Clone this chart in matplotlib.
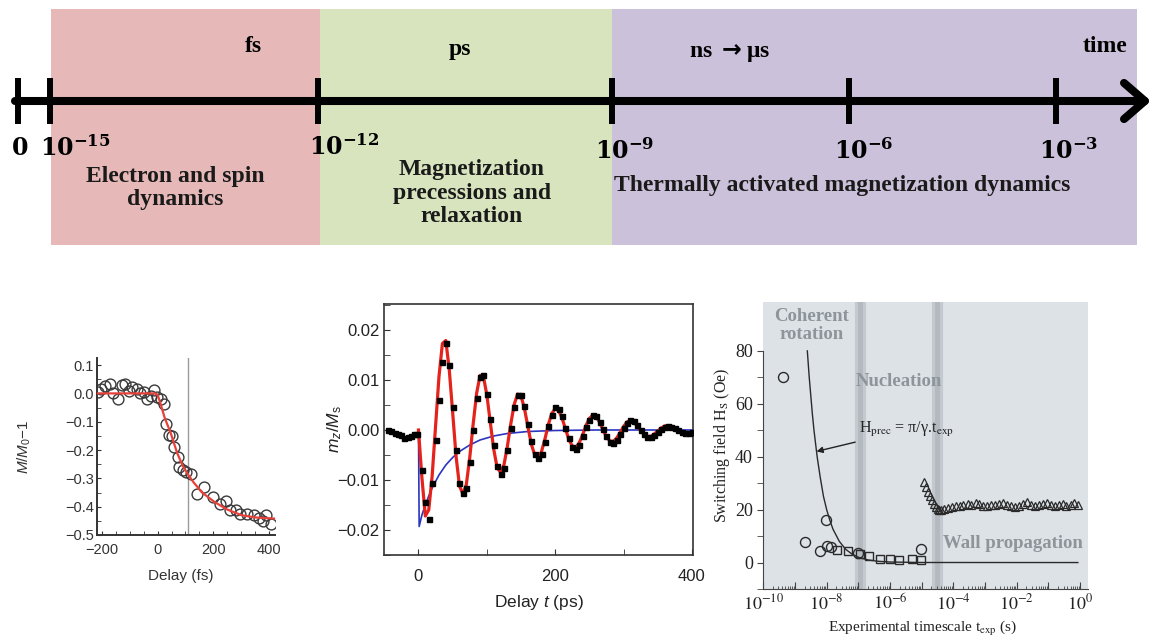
import matplotlib
matplotlib.use("Agg")
import matplotlib.pyplot as plt
from matplotlib.ticker import FixedLocator, MultipleLocator, NullFormatter, LogLocator
import numpy as np

plt.rcParams["font.family"] = ["Liberation Sans", "DejaVu Sans"]
plt.rcParams["mathtext.fontset"] = "custom"
plt.rcParams["mathtext.rm"] = "Liberation Sans"
plt.rcParams["mathtext.it"] = "Liberation Sans:italic"
plt.rcParams["mathtext.bf"] = "Liberation Sans:bold"

W, H = 1153, 637
SERIF = ["Liberation Serif", "DejaVu Serif"]

# ---- timeline schematic (positions in pixels of the upper strip) ----
band_edges = [51, 320, 612, 1137]
band_colors = ["#e6b9b8", "#d7e4bd", "#ccc1da"]
unit_labels = ["fs", "ps", r"ns $\mathbf{\rightarrow}$\u03bcs".replace("\\u03bcs", "\u03bcs")]
unit_x = [253, 460, 730]
unit_y = [47, 50, 52]
tick_x = [18, 50, 318, 612, 849, 1056]
tick_text = [r"$\mathbf{0}$", r"$\mathbf{10^{-15}}$", r"$\mathbf{10^{-12}}$", r"$\mathbf{10^{-9}}$",
             r"$\mathbf{10^{-6}}$", r"$\mathbf{10^{-3}}$"]
tick_text_x = [11, 40, 309, 595, 834, 1039]
tick_text_y = [155, 156, 155, 159, 159, 159]
process_text = ["Electron and spin\ndynamics", "Magnetization\nprecessions and\nrelaxation",
                "Thermally activated magnetization dynamics"]
process_x = [175, 472, 842]
process_y = [188, 193, 186]

# ---- fs demagnetization ----
fs_delay = [-215, -205, -190, -171, -160, -141, -128, -116, -104, -92, -75, -62, -50, -38,
            -25, -13, -1, 12, 23, 29, 41, 52, 60, 72, 78, 90, 102, 120, 142, 165, 200, 224,
            245, 260, 280, 296, 320, 345, 365, 380, 391, 409]
fs_signal = [0.005, 0.017, 0.025, 0.034, 0.0, -0.019, 0.03, 0.034, 0.01, 0.022, 0.015, 0.0,
             0.005, -0.019, -0.01, 0.013, -0.013, -0.02, -0.036, -0.107, -0.148, -0.15,
             -0.19, -0.225, -0.26, -0.27, -0.278, -0.284, -0.354, -0.33, -0.366, -0.39,
             -0.38, -0.413, -0.41, -0.425, -0.425, -0.43, -0.44, -0.449, -0.43, -0.46]
fs_fit_t = [-220, -10, 0, 10, 25, 47, 70, 90, 108, 130, 160, 204, 250, 302, 350, 422]
fs_fit = [0.0, 0.0, -0.005, -0.035, -0.085, -0.14, -0.21, -0.255, -0.285, -0.315, -0.35,
          -0.383, -0.41, -0.43, -0.438, -0.442]
fs_marker = 110

# ---- ps precession ----
ps_pre_t = [-45, -40, -35, -30, -25, -20.5, -15.6, -10.7, -5.9, -2.4]
ps_pre = [0.0001, -0.0001, -0.0005, -0.0007, -0.001, -0.0015, -0.0013, -0.0011, -0.0008,
          -0.0007]
ps_mz = [-0.0080, -0.0143, -0.0178, -0.0105, -0.0020, 0.0060, 0.0137, 0.0175, 0.0130, 0.0047,
         -0.0040, -0.0105, -0.0125, -0.0115, -0.0064, 0.0000, 0.0065, 0.0106, 0.0110, 0.0072,
         0.0022, -0.0030, -0.0072, -0.0087, -0.0075, -0.0040, 0.0005, 0.0047, 0.0071, 0.0070,
         0.0048, 0.0012, -0.0022, -0.0048, -0.0056, -0.0047, -0.0023, 0.0008, 0.0030, 0.0047,
         0.0042, 0.0028, 0.0005, -0.0016, -0.0033, -0.0037, -0.0030, -0.0012, 0.0006, 0.0021,
         0.0031, 0.0029, 0.0017, 0.0003, -0.0012, -0.0024, -0.0025, -0.0019, -0.0007, 0.0005,
         0.0015, 0.0021, 0.0018, 0.0010, 0.0001, -0.0008, -0.0013, -0.0014, -0.0010, -0.0003,
         0.0003, 0.0007, 0.0008, 0.0006, 0.0004, 0.0000, -0.0004, -0.0006, -0.0005, -0.0003]
ps_fit = [0.0, -0.0095, -0.0172, -0.0160, -0.0092, 0.0008, 0.0107, 0.0173, 0.0179, 0.0121,
          0.0035, -0.0053, -0.0112, -0.0128, -0.0109, -0.0055, 0.0012, 0.0073, 0.0109, 0.0107,
          0.0070, 0.0016, -0.0038, -0.0075, -0.0085, -0.0070, -0.0033, 0.0012, 0.0051, 0.0072,
          0.0068, 0.0043, 0.0007, -0.0028, -0.0050, -0.0055, -0.0043, -0.0018, 0.0011, 0.0033,
          0.0043, 0.0039, 0.0024, 0.0002, -0.0019, -0.0032, -0.0035, -0.0026, -0.0010, 0.0009,
          0.0023, 0.0030, 0.0027, 0.0015, 0.0000, -0.0014, -0.0022, -0.0023, -0.0016, -0.0005,
          0.0007, 0.0016, 0.0019, 0.0016, 0.0008, -0.0001, -0.0009, -0.0013, -0.0013, -0.0008,
          -0.0002, 0.0004, 0.0008, 0.0009, 0.0008, 0.0003, -0.0001, -0.0005, -0.0007, -0.0006,
          -0.0004]
ps_relax_t = [0, 1, 5, 10, 15, 20, 30, 40, 50, 60, 75, 90, 110, 130, 160, 200, 260, 400]
ps_relax = [0.0, -0.0193, -0.0170, -0.0150, -0.0132, -0.0116, -0.0090, -0.0070, -0.0055,
            -0.0043, -0.0030, -0.0020, -0.0012, -0.0007, -0.0003, -0.0001, 0.0, 0.0]

# ---- switching field vs timescale ----
circ_t = [4.1e-10, 2.1e-9, 6.2e-9, 9.5e-9, 1.0e-8, 1.4e-8, 1.0e-7, 9.5e-6]
circ_H = [70.3, 7.9, 4.4, 16.1, 6.3, 5.7, 3.5, 5.0]
sq_t = [2.1e-8, 4.8e-8, 1.1e-7, 2.1e-7, 4.8e-7, 1.0e-6, 1.9e-6, 4.9e-6, 9.5e-6]
sq_H = [4.8, 4.2, 3.3, 2.3, 1.3, 1.3, 1.0, 1.3, 1.0]
tri_log_t = [-4.92, -4.86, -4.80, -4.74, -4.68, -4.62, -4.56, -4.50, -4.44, -4.38,
             -4.30, -4.18, -4.05, -3.93, -3.80, -3.68, -3.55, -3.43, -3.30, -3.18,
             -3.05, -2.93, -2.80, -2.68, -2.55, -2.43, -2.30, -2.18, -2.05, -1.93,
             -1.80, -1.68, -1.55, -1.43, -1.30, -1.18, -1.05, -0.93, -0.80, -0.68,
             -0.55, -0.43, -0.30, -0.18, -0.05]
tri_H = [30.5, 28.6, 26.8, 25.2, 23.6, 22.2, 21.0, 20.2, 19.9, 19.9,
         20.3, 20.6, 21.0, 21.4, 21.2, 21.8, 22.3, 21.6, 22.4, 22.0,
         21.5, 21.2, 21.6, 21.9, 22.2, 22.6, 21.8, 21.3, 21.0, 21.5,
         22.3, 22.8, 21.9, 21.4, 21.6, 22.0, 22.4, 21.7, 21.3, 21.8,
         22.2, 21.5, 21.9, 22.4, 21.6]
prec_log_t = [-8.61, -8.55, -8.5, -8.45, -8.4, -8.3, -8.2, -8.1, -8.0, -7.9, -7.8, -7.6,
              -7.4, -7.2, -7.0, -6.7, -6.4, -6.0, -5.0, -0.07]
prec_H = [80, 70, 63, 56, 50, 40, 32, 25, 20, 16, 12.6, 8, 5, 3.2, 2, 1, 0.5, 0.2, 0.02, 0]
regime_bounds = [1.1e-7, 2.95e-5]

fig = plt.figure(figsize=(W / 100, H / 100), dpi=100)

# timeline strip
ax_t = fig.add_axes([0, 0, 1, 1], zorder=0)
ax_t.set_xlim(0, W)
ax_t.set_ylim(H, 0)
ax_t.axis("off")
for i, c in enumerate(band_colors):
    ax_t.axvspan(band_edges[i], band_edges[i + 1], ymin=1 - 245 / H, ymax=1 - 9 / H,
                 color=c, lw=0)
ax_t.annotate("", xy=(1151, 101), xytext=(15, 101),
              arrowprops=dict(arrowstyle="->,head_length=0.75,head_width=0.65", lw=5.8,
                              color="black", shrinkA=0, shrinkB=0, mutation_scale=20))
ax_t.vlines(tick_x, 78, 124, color="black", lw=4.3)
for lbl, x, y in zip(unit_labels, unit_x, unit_y):
    ax_t.text(x, y, lbl, family=SERIF, weight="bold", fontsize=17, ha="center", va="center",
              math_fontfamily="dejavusans")
ax_t.text(1105, 46, "time", family=SERIF, weight="bold", fontsize=17, ha="center", va="center")
for lbl, x, y in zip(tick_text, tick_text_x, tick_text_y):
    ax_t.text(x, y, lbl, family=SERIF, weight="bold", fontsize=17, ha="left", va="baseline",
              math_fontfamily="dejavuserif")
for lbl, x, y in zip(process_text, process_x, process_y):
    ax_t.text(x, y, lbl, family=SERIF, weight="bold", fontsize=17, ha="center", va="center",
              linespacing=1.15, color="#1a1a1a")

# fs panel
ax1 = fig.add_axes([97 / W, 1 - 535 / H, 178 / W, 177 / H])
ax1.axvline(fs_marker, color="#9a9a9a", lw=1, zorder=1)
ax1.plot(fs_delay, fs_signal, "o", mfc="none", mec="#3a3a3a", ms=7.8, mew=1, zorder=2)
ax1.plot(fs_fit_t, fs_fit, color="#e8403a", lw=1.6, zorder=3)
ax1.set_xlim(-218, 422)
ax1.set_ylim(-0.5, 0.125)
for s in ["top", "right"]:
    ax1.spines[s].set_visible(False)
for s in ["left", "bottom"]:
    ax1.spines[s].set_color("#333333")
ax1.spines["left"].set_linewidth(1.4)
ax1.spines["bottom"].set_linewidth(1.4)
ax1.set_xticks([-200, 0, 200, 400], ["\u2212200", "0", "200", "400"])
ax1.set_yticks([-0.5, -0.4, -0.3, -0.2, -0.1, 0.0, 0.1],
               ["\u22120.5", "\u22120.4", "\u22120.3", "\u22120.2", "\u22120.1", "0.0", "0.1"])
ax1.xaxis.set_minor_locator(MultipleLocator(50))
ax1.yaxis.set_minor_locator(MultipleLocator(0.05))
ax1.tick_params(which="both", direction="in", length=3, color="#333333", labelsize=10.5,
                labelcolor="#333333", pad=2)
ax1.tick_params(axis="x", pad=6)
ax1.set_xlabel("Delay (fs)", fontsize=11, color="#333333")
ax1.xaxis.set_label_coords(0.47, -0.19)
ax1.set_ylabel("$M/M_\\mathrm{0}$\u22121", fontsize=11, color="#333333")
ax1.yaxis.set_label_coords(-0.36, 0.5)

# ps panel
ax2 = fig.add_axes([384.3 / W, 1 - 555 / H, 309 / W, 251 / H])
ps_t = np.arange(0, 405, 5)
ax2.plot(ps_relax_t, ps_relax, color="#2a35c0", lw=1.2, zorder=2)
ax2.plot(ps_t, ps_fit, color="#e3231c", lw=2.3, zorder=3)
ax2.plot(ps_pre_t, ps_pre, "s", color="black", ms=3.6, zorder=4)
ax2.plot(ps_t[1:], ps_mz, "s", color="black", ms=3.6, zorder=4)
ax2.set_xlim(-50, 402)
ax2.set_ylim(-0.025, 0.0252)
for s in ax2.spines.values():
    s.set_color("#333333")
    s.set_linewidth(1.2)
ax2.set_xticks([0, 200, 400])
ax2.set_yticks([-0.02, -0.01, 0.0, 0.01, 0.02],
               ["\u22120.02", "\u22120.01", "0.00", "0.01", "0.02"])
ax2.xaxis.set_minor_locator(FixedLocator([100, 300]))
ax2.yaxis.set_minor_locator(MultipleLocator(0.005))
ax2.tick_params(which="both", direction="in", length=4, color="#333333", labelsize=12,
                labelcolor="#222222")
ax2.tick_params(axis="x", pad=10)
ax2.set_xlabel(r"Delay $t$ (ps)", fontsize=12.5, color="#222222")
ax2.xaxis.set_label_coords(0.5, -0.15)
ax2.set_ylabel(r"$m_z/M_\mathrm{s}$", fontsize=12.5, color="#222222")
ax2.yaxis.set_label_coords(-0.13, 0.5)

# switching field panel
ax3 = fig.add_axes([763.3 / W, 1 - 589 / H, 325 / W, 287.3 / H])
ax3.set_facecolor("#dde2e6")
ax3.set_xscale("log")
for b in regime_bounds:
    ax3.axvline(b, color="#c3c9ce", lw=8, zorder=0)
    ax3.axvline(b, color="#b2b9bf", lw=3.5, zorder=0)
ax3.plot(10 ** np.array(prec_log_t), prec_H, color="#2a2a2a", lw=1, zorder=2)
ax3.plot(circ_t, circ_H, "o", mfc="none", mec="#2a2a2a", ms=7.2, mew=1, zorder=3)
ax3.plot(sq_t, sq_H, "s", mfc="none", mec="#2a2a2a", ms=5.6, mew=1, zorder=3)
ax3.plot(10 ** np.array(tri_log_t), tri_H, "^", mfc="none", mec="#2a2a2a", ms=6.2, mew=0.9,
         zorder=3)
ax3.set_xlim(1e-10, 10 ** 0.26)
ax3.set_ylim(-10, 98.6)
for s in ["top", "right"]:
    ax3.spines[s].set_visible(False)
for s in ["left", "bottom"]:
    ax3.spines[s].set_color("#444444")
ax3.spines["left"].set_bounds(-10, 80)
decades = np.arange(-10, 1)
ax3.xaxis.set_major_locator(FixedLocator(10.0 ** decades))
ax3.set_xticklabels([r"$10^{%d}$" % d if d % 2 == 0 else "" for d in decades])
ax3.xaxis.set_minor_locator(LogLocator(base=10, subs=np.arange(2, 10), numticks=20))
ax3.xaxis.set_minor_formatter(NullFormatter())
ax3.set_yticks([0, 20, 40, 60, 80])
ax3.yaxis.set_minor_locator(FixedLocator([-10, 10, 30, 50, 70]))
ax3.tick_params(axis="x", which="major", direction="in", length=5, color="#444444")
ax3.tick_params(axis="x", which="minor", direction="in", length=2.5, color="#444444")
ax3.tick_params(axis="y", which="both", direction="out", length=4, color="#444444")
ax3.tick_params(which="both", labelsize=13, labelcolor="#222222")
for lbl in ax3.get_xticklabels() + ax3.get_yticklabels():
    lbl.set_family(SERIF)
    lbl.set_math_fontfamily("stix")
ax3.set_xlabel(r"Experimental timescale t$_\mathrm{exp}$ (s)", family=SERIF, fontsize=11,
               color="#222222", math_fontfamily="stix")
ax3.xaxis.set_label_coords(0.49, -0.105)
ax3.set_ylabel(r"Switching field H$_\mathrm{S}$ (Oe)", family=SERIF, fontsize=11.5,
               color="#222222", math_fontfamily="stix")
ax3.yaxis.set_label_coords(-0.095, 0.5)
gray_txt = "#8d949a"
ax3.text(10 ** -8.47, 89.5, "Coherent\nrotation", family=SERIF, weight="bold", fontsize=13.5,
         color=gray_txt, ha="center", va="center", linespacing=1.05)
ax3.text(10 ** -5.71, 68.4, "Nucleation", family=SERIF, weight="bold", fontsize=13.5,
         color=gray_txt, ha="center", va="center")
ax3.text(10 ** -2.12, 7.1, "Wall propagation", family=SERIF, weight="bold", fontsize=13.5,
         color=gray_txt, ha="center", va="center")
ax3.annotate("H$_\\mathrm{prec}$ = \u03c0/\u03b3.t$_\\mathrm{exp}$",
             xy=(10 ** -8.32, 42), xytext=(10 ** -6.97, 50.2), family=SERIF, fontsize=11.5,
             color="#222222", ha="left", va="center", math_fontfamily="stix",
             arrowprops=dict(arrowstyle="-|>", color="#222222", lw=1, shrinkA=1, shrinkB=0,
                             mutation_scale=9))

fig.savefig("out.png", dpi=100, facecolor="white")
